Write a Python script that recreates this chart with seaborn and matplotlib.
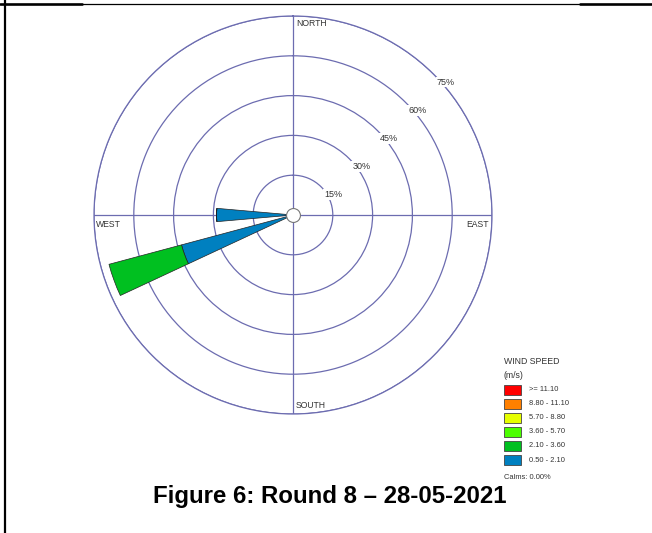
import numpy as np
import matplotlib
matplotlib.use("Agg")
import matplotlib.pyplot as plt
import seaborn as sns
from matplotlib.lines import Line2D
from matplotlib.patches import Rectangle

# ---- data ----
directions_deg = [250, 270]
speed_050_210 = [43.5, 28.8]
speed_210_360 = [28.3, 0.0]
ring_values = [15, 30, 45, 60, 75]
legend_labels = [">= 11.10", "8.80 - 11.10", "5.70 - 8.80", "3.60 - 5.70", "2.10 - 3.60", "0.50 - 2.10"]
legend_colors = ["#ff0000", "#ff8000", "#e6ff00", "#4cff00", "#00c020", "#0080c0"]
calms_text = "Calms: 0.00%"
title_text = "Figure 6: Round 8 \u2013 28-05-2021"

sns.set_theme(style="white")
plt.rcParams["font.family"] = ["Liberation Sans", "DejaVu Sans"]

W, H = 652, 533
fig = plt.figure(figsize=(W / 100, H / 100), dpi=100)
fig.patch.set_facecolor("white")

def fx(x):
    return x / W

def fy(y):
    return 1 - y / H

cx, cy, R = 293, 215, 199
ax = fig.add_axes([fx(cx - R), fy(cy + R), 2 * R / W, 2 * R / H], projection="polar")
ax.set_facecolor("white")
ax.set_theta_zero_location("N")
ax.set_theta_direction(-1)
ax.set_ylim(0, 75)

grid_color = "#6c6cb0"
ax.set_rgrids(ring_values, labels=[""] * len(ring_values))
ax.set_thetagrids([0, 90, 180, 270], labels=[""] * 4)
ax.grid(True, color=grid_color, linewidth=0.9)
ax.spines["polar"].set_color(grid_color)
ax.spines["polar"].set_linewidth(0.9)
ax.tick_params(pad=0)

theta = np.deg2rad(directions_deg)
width = np.deg2rad(10)
ax.bar(theta, speed_050_210, width=width, bottom=0, color=legend_colors[5],
       edgecolor="#222222", linewidth=0.5, zorder=3)
ax.bar(theta, speed_210_360, width=width, bottom=speed_050_210, color=legend_colors[4],
       edgecolor="#222222", linewidth=0.5, zorder=3)

# centre hole
ax.plot([0], [0], marker="o", ms=10, mfc="white", mec="#777777", mew=0.8, zorder=5, clip_on=False)

# ring labels
for v in ring_values:
    ax.annotate(f"{v}%", xy=(np.deg2rad(45), v), xytext=(8.6, -5.6), textcoords="offset points",
                ha="center", va="center", fontsize=6.5, color="#333333", zorder=6,
                bbox=dict(boxstyle="square,pad=0.1", fc="white", ec="none"))

txt_color = "#333333"
fig.text(fx(296), fy(24), "NORTH", fontsize=6.2, color=txt_color, ha="left", va="center")
fig.text(fx(296), fy(405), "SOUTH", fontsize=6.2, color=txt_color, ha="left", va="center")
fig.text(fx(489), fy(224), "EAST", fontsize=6.2, color=txt_color, ha="right", va="center")
fig.text(fx(96), fy(224), "WEST", fontsize=6.2, color=txt_color, ha="left", va="center")

# legend
fig.text(fx(504), fy(362), "WIND SPEED", fontsize=6.3, color=txt_color, ha="left", va="center")
fig.text(fx(504), fy(375), "(m/s)", fontsize=6.3, color=txt_color, ha="left", va="center")
y0, dy = 384.5, 14.1
for i, (lab, col) in enumerate(zip(legend_labels, legend_colors)):
    top = y0 + i * dy
    fig.patches.append(Rectangle((fx(504), fy(top + 10)), 17 / W, 10 / H, transform=fig.transFigure,
                                 facecolor=col, edgecolor="#444444", linewidth=0.6))
    fig.text(fx(529), fy(top + 5), lab, fontsize=5.4, color=txt_color, ha="left", va="center")
fig.text(fx(504), fy(477.5), calms_text, fontsize=5.45, color=txt_color, ha="left", va="center")

# title
fig.text(fx(330), fy(503), title_text, fontsize=17.3, fontweight="bold", color="black",
         ha="center", va="baseline")

# page borders
fig.add_artist(Line2D([0, fx(82)], [fy(4), fy(4)], transform=fig.transFigure, color="black", lw=1.9))
fig.add_artist(Line2D([fx(82), fx(580)], [fy(3.6), fy(3.6)], transform=fig.transFigure, color="black", lw=0.9))
fig.add_artist(Line2D([fx(580), 1], [fy(4), fy(4)], transform=fig.transFigure, color="black", lw=1.9))
fig.add_artist(Line2D([fx(5), fx(5)], [0, 1], transform=fig.transFigure, color="black", lw=1.6))

fig.savefig("out.png", dpi=100, facecolor="white")
